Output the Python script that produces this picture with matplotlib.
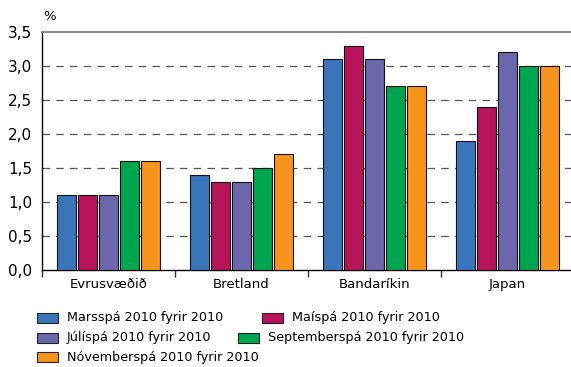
import matplotlib.pyplot as plt
from matplotlib.patches import Rectangle
import numpy as np

categories = ['Evrusvæðið', 'Bretland', 'Bandaríkin', 'Japan']
series_names = ['Marsspá 2010 fyrir 2010', 'Maíspá 2010 fyrir 2010',
                'Júlíspá 2010 fyrir 2010', 'Septemberspá 2010 fyrir 2010',
                'Nóvemberspá 2010 fyrir 2010']
mars = [1.1, 1.4, 3.1, 1.9]
mai = [1.1, 1.3, 3.3, 2.4]
juli = [1.1, 1.3, 3.1, 3.2]
sept = [1.6, 1.5, 2.7, 3.0]
nov = [1.6, 1.7, 2.7, 3.0]
series = [mars, mai, juli, sept, nov]
colors = ['#3a75b9', '#b8145a', '#6c66ac', '#00a550', '#f7941e']
yticks = [0.0, 0.5, 1.0, 1.5, 2.0, 2.5, 3.0, 3.5]

W, H = 571, 367
fig = plt.figure(figsize=(W / 100, H / 100), dpi=100)
ax = fig.add_axes([42 / W, 1 - 270 / H, 532 / W, 238 / H])

x = np.arange(len(categories))
step = 21 / 133
width = 19 / 133
for i, vals in enumerate(series):
    ax.bar(x + (i - 2) * step, vals, width, color=colors[i],
           edgecolor='#111111', linewidth=0.8, zorder=3)

ax.set_xlim(-0.5, 3.5)
ax.set_ylim(0, 3.5)
ax.set_yticks(yticks)
ax.set_yticklabels([f'{v:.1f}'.replace('.', ',') for v in yticks], fontsize=11)
ax.tick_params(axis='y', length=0, pad=7)
for v in yticks[1:-1]:
    ax.axhline(v, color='#555555', linewidth=0.9, dashes=(6, 5), zorder=1)

ax.set_xticks(x)
ax.set_xticklabels(categories, fontsize=9.5)
ax.tick_params(axis='x', length=0, pad=6)
ax.set_xticks([-0.5, 0.5, 1.5, 2.5], minor=True)
ax.tick_params(axis='x', which='minor', length=5, width=1, color='#333333')

ax.spines['top'].set_color('#777777')
ax.spines['top'].set_linewidth(1.2)
ax.spines['right'].set_visible(False)
ax.spines['left'].set_linewidth(1.0)
ax.spines['bottom'].set_linewidth(1.0)

fig.text(50 / W, 1 - 16 / H, '%', fontsize=9.5, ha='center', va='center')

# legend, laid out by hand like the original
legend_pos = [(37, 318), (262, 318), (37, 338), (238, 338), (37, 357)]
for (px, py), name, c in zip(legend_pos, series_names, colors):
    fig.patches.append(Rectangle((px / W, 1 - (py + 5) / H), 21 / W, 10 / H,
                                 transform=fig.transFigure, facecolor=c,
                                 edgecolor='#222222', linewidth=0.8))
    fig.text((px + 30) / W, 1 - py / H, name, fontsize=9.2, va='center')

fig.savefig('out.png', dpi=100)
